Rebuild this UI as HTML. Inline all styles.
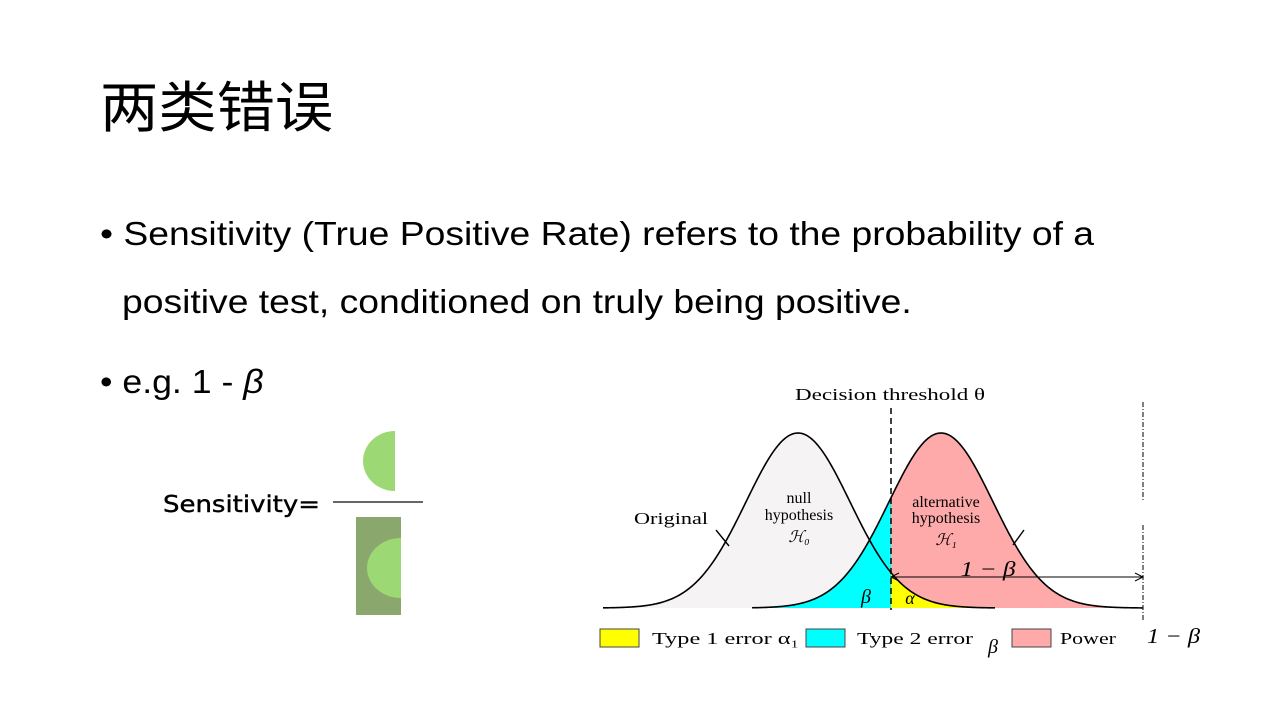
<!DOCTYPE html>
<html><head><meta charset="utf-8"><style>
body{margin:0;background:#fff;}
#slide{position:relative;width:1280px;height:720px;overflow:hidden;background:#fff;font-family:"Liberation Sans","Noto Sans CJK SC",sans-serif;}
.t{position:absolute;white-space:nowrap;color:#000;transform-origin:0 0;}
</style></head><body>
<div id="slide">
<div class="t" style="left:100px;top:76px;font-size:55px;line-height:64px;transform:scaleX(1.06);">两类错误</div>
<div class="t" style="left:100px;top:214px;font-size:33px;line-height:40px;transform:scaleX(1.13);">• Sensitivity (True Positive Rate) refers to the probability of a</div>
<div class="t" style="left:122px;top:282px;font-size:33px;line-height:40px;transform:scaleX(1.13);">positive test, conditioned on truly being positive.</div>
<div class="t" style="left:100px;top:362px;font-size:33px;line-height:40px;transform:scaleX(1.08);">• e.g. 1 - <i>β</i></div>
<svg width="1280" height="720" style="position:absolute;left:0;top:0">
<g>
<text x="163" y="512" font-family="DejaVu Sans, sans-serif" font-size="23" textLength="157" lengthAdjust="spacingAndGlyphs" stroke="#000" stroke-width="0.4">Sensitivity=</text>
<path d="M395,431 L395,491 A32,30 0 0 1 395,431 Z" fill="#9cd873"/>
<line x1="333" y1="502" x2="423" y2="502" stroke="#666" stroke-width="2"/>
<rect x="356" y="517" width="45" height="98" fill="#8aa86e"/>
<path d="M401,538 L401,598 A34,30 0 0 1 401,538 Z" fill="#9cd873"/>
</g>
<g id="chart"></g>
</svg>
</div>
<script>
const means=[798,941];
const sigmas=[52,52];
const threshold=891;
const ranges=[[603,995],[752,1143]];
const baseY=608, peakH=175;
const g=document.getElementById('chart');
const NS='http://www.w3.org/2000/svg';
function yv(i,x){const d=x-means[i];return baseY-peakH*Math.exp(-d*d/(2*sigmas[i]*sigmas[i]));}
function area(i,a,b){let s='M'+a+','+baseY;for(let x=a;x<=b;x+=1)s+=' L'+x+','+yv(i,x).toFixed(2);s+=' L'+b+','+baseY+' Z';return s;}
function curve(i){let s='';for(let x=ranges[i][0];x<=ranges[i][1];x+=1)s+=(s?' L':'M')+x+','+yv(i,x).toFixed(2);return s;}
function add(tag,attrs,name){const e=document.createElementNS(NS,tag);for(const k in attrs)e.setAttribute(k,attrs[k]);


g.appendChild(e);return e;}
add('path',{d:area(0,ranges[0][0],threshold),fill:'#f5f3f3'},'null-area');
add('path',{d:area(1,ranges[1][0],threshold),fill:'#00ffff'},'type2-area');
add('path',{d:area(1,threshold,ranges[1][1]),fill:'#ffaaaa'},'power-area');
add('path',{d:area(0,threshold,ranges[0][1]),fill:'#ffff00'},'type1-area');
add('path',{d:curve(0),fill:'none',stroke:'#000','stroke-width':1.6},'null-curve');
add('path',{d:curve(1),fill:'none',stroke:'#000','stroke-width':1.6},'alt-curve');
add('line',{x1:threshold,y1:408,x2:threshold,y2:610,stroke:'#000','stroke-width':1.5,'stroke-dasharray':'6,4'},'threshold-line');
add('line',{x1:1143,y1:402,x2:1143,y2:500,stroke:'#000','stroke-width':1,'stroke-dasharray':'5,2,1,2'},'right-line-top');
add('line',{x1:1143,y1:525,x2:1143,y2:620,stroke:'#000','stroke-width':1,'stroke-dasharray':'5,2,1,2'},'right-line-bottom');
add('line',{x1:threshold,y1:577,x2:1143,y2:577,stroke:'#000','stroke-width':1},'power-arrow');
add('path',{d:'M899,573 L891,577 L899,581 M1135,573 L1143,577 L1135,581',fill:'none',stroke:'#000','stroke-width':1},'arrow-heads');
add('line',{x1:716,y1:530,x2:729,y2:546,stroke:'#000','stroke-width':1.4},'original-tick');
add('line',{x1:1013,y1:545,x2:1024,y2:530,stroke:'#000','stroke-width':1.4},'alt-tick');
const texts=[['Decision threshold θ',795,400,17,'start','threshold-label',190],['Original',634,524,17,'start','original-label',74],
['null',799,503,16,'middle','null-label',0],['hypothesis',799,520,16,'middle','null-hyp-label',0],['ℋ₀',799,542,16,'middle','h0-label',0],
['alternative',946,507,16,'middle','alt-label',0],['hypothesis',946,523,16,'middle','alt-hyp-label',0],['ℋ₁',946,545,16,'middle','h1-label',0],
['1 − β',988,576,21,'middle','power-arrow-label',55],['β',866,603,20,'middle','beta-label',0],['α',910,604,18,'middle','alpha-label',0],
['Type 1 error α₁',652,644,17,'start','legend-type1-text',147],['Type 2 error',857,644,17,'start','legend-type2-text',116],['β',993,653,20,'middle','legend-beta',0],
['Power',1060,644,17,'start','legend-power-text',56],['1 − β',1147,643,21,'start','legend-power-math',53]];
texts.forEach(t=>{const a={x:t[1],y:t[2],'font-size':t[3],'text-anchor':t[4],'font-family':'Liberation Serif, serif','font-style':(t[0].length<=5&&/[αβℋ]/.test(t[0]))?'italic':'normal'};
if(t[6]){a.textLength=t[6];a.lengthAdjust='spacingAndGlyphs';}
const e=add('text',a,t[5]);e.textContent=t[0];});
add('rect',{x:600,y:629,width:39,height:18,fill:'#ffff00',stroke:'#444'},'legend-type1-swatch');
add('rect',{x:806,y:629,width:39,height:18,fill:'#00ffff',stroke:'#444'},'legend-type2-swatch');
add('rect',{x:1012,y:629,width:39,height:18,fill:'#ffaaaa',stroke:'#444'},'legend-power-swatch');
</script>
</body></html>
